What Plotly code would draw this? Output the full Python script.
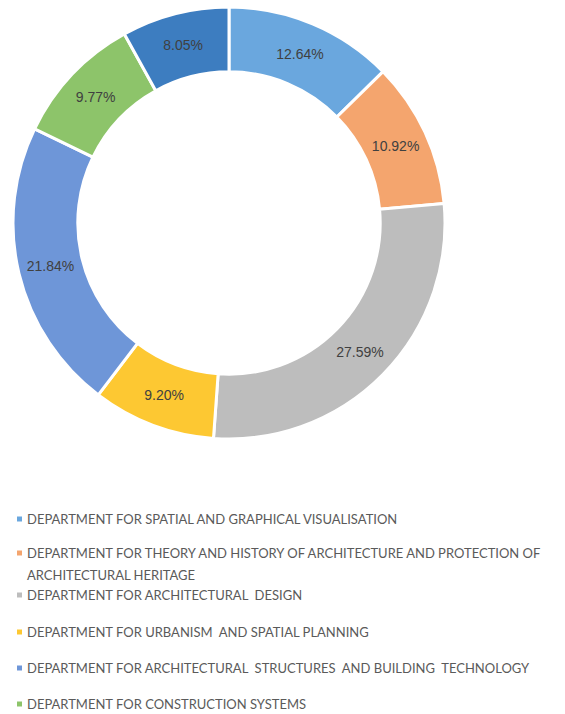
import plotly.graph_objects as go

labels = [
    "DEPARTMENT FOR SPATIAL AND GRAPHICAL VISUALISATION",
    "DEPARTMENT FOR THEORY AND HISTORY OF ARCHITECTURE AND PROTECTION OF ARCHITECTURAL HERITAGE",
    "DEPARTMENT FOR ARCHITECTURAL  DESIGN",
    "DEPARTMENT FOR URBANISM  AND SPATIAL PLANNING",
    "DEPARTMENT FOR ARCHITECTURAL  STRUCTURES  AND BUILDING  TECHNOLOGY",
    "DEPARTMENT FOR CONSTRUCTION SYSTEMS",
    "OTHER",
]
values = [12.64, 10.92, 27.59, 9.20, 21.84, 9.77, 8.05]
colors = ["#6AA7DE", "#F4A56E", "#BDBDBD", "#FDC832", "#6E96D8", "#8DC46A", "#3D7DC0"]
legend_lines = [
    ["DEPARTMENT FOR SPATIAL AND GRAPHICAL VISUALISATION"],
    ["DEPARTMENT FOR THEORY AND HISTORY OF ARCHITECTURE AND PROTECTION OF", "ARCHITECTURAL HERITAGE"],
    ["DEPARTMENT FOR ARCHITECTURAL  DESIGN"],
    ["DEPARTMENT FOR URBANISM  AND SPATIAL PLANNING"],
    ["DEPARTMENT FOR ARCHITECTURAL  STRUCTURES  AND BUILDING  TECHNOLOGY"],
    ["DEPARTMENT FOR CONSTRUCTION SYSTEMS"],
]
legend_colors = colors[:6]

W, H = 565, 714
cx, cy, R = 229, 223, 216

fig = go.Figure(go.Pie(
    labels=labels,
    values=values,
    text=[f"{v:.2f}%" for v in values],
    textinfo="text",
    textposition="inside",
    insidetextorientation="horizontal",
    sort=False,
    direction="clockwise",
    rotation=0,
    hole=0.70,
    marker=dict(colors=colors, line=dict(color="white", width=3)),
    textfont=dict(family="Liberation Sans, Arial, sans-serif", size=14, color="#404040"),
    domain=dict(x=[(cx - R) / W, (cx + R) / W], y=[1 - (cy + R) / H, 1 - (cy - R) / H]),
    showlegend=False,
    hoverinfo="label+text",
))

legend_y = [519, 553, 595, 632, 668, 704]
line_gap = 22
annotations = []
shapes = []
for i, (lines, col) in enumerate(zip(legend_lines, legend_colors)):
    y0 = legend_y[i]
    shapes.append(dict(type="rect", xref="paper", yref="paper",
                       x0=17 / W, x1=22 / W,
                       y0=1 - (y0 + 2.5) / H, y1=1 - (y0 - 2.5) / H,
                       fillcolor=col, line=dict(width=0)))
    for j, t in enumerate(lines):
        annotations.append(dict(
            x=25 / W, y=1 - (y0 + j * line_gap) / H, xref="paper", yref="paper",
            xanchor="left", yanchor="middle", showarrow=False, text=t,
            font=dict(family="Lato, Noto Sans, sans-serif", size=13, color="#5A5A5A"),
        ))

fig.update_layout(
    width=W, height=H,
    margin=dict(l=0, r=0, t=0, b=0),
    paper_bgcolor="white", plot_bgcolor="white",
    annotations=annotations, shapes=shapes,
)
fig.write_html("out.html", config={"displayModeBar": False},
               post_script="document.body.style.margin='0';document.body.style.overflow='hidden';")
